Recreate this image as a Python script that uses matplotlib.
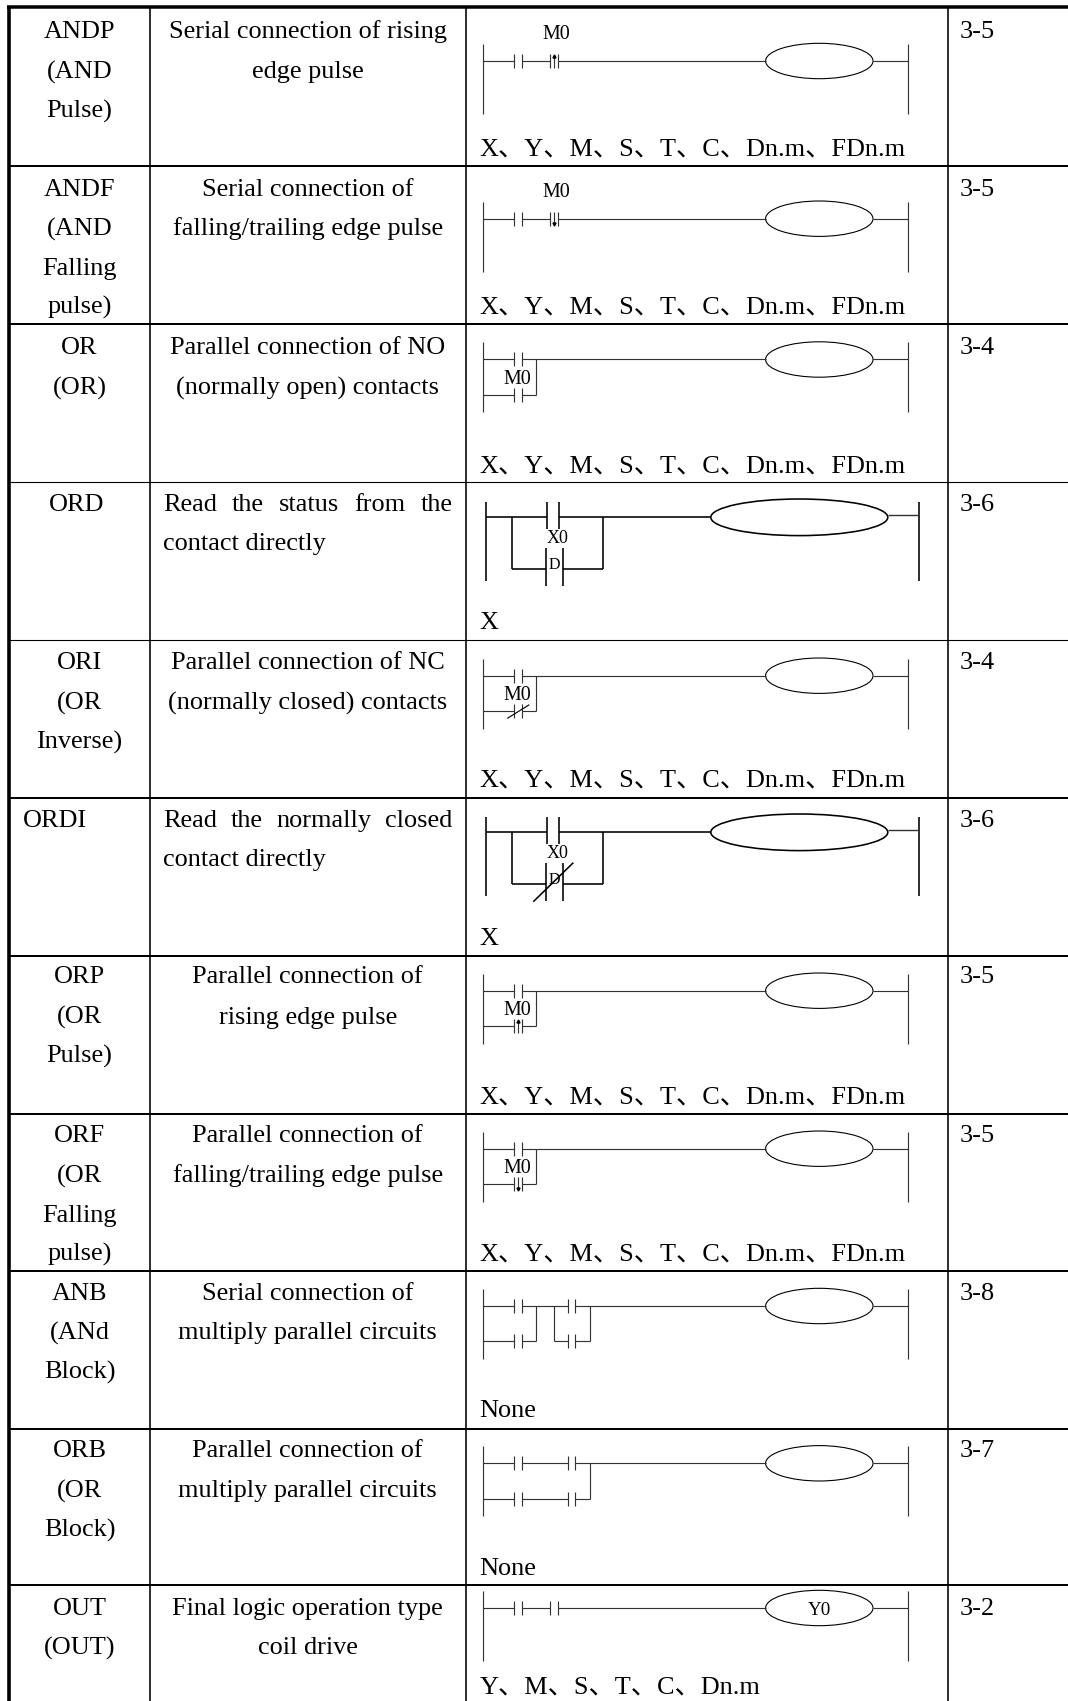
import matplotlib
matplotlib.use("Agg")
from matplotlib import pyplot as plt
from matplotlib.patches import Ellipse

# table content
names = [["ANDP", "(AND", "Pulse)"], ["ANDF", "(AND", "Falling", "pulse)"], ["OR", "(OR)"], ["ORD"],
         ["ORI", "(OR", "Inverse)"], ["ORDI"], ["ORP", "(OR", "Pulse)"], ["ORF", "(OR", "Falling", "pulse)"],
         ["ANB", "(ANd", "Block)"], ["ORB", "(OR", "Block)"], ["OUT", "(OUT)"]]
descs = [["Serial connection of rising", "edge pulse"],
         ["Serial connection of", "falling/trailing edge pulse"],
         ["Parallel connection of NO", "(normally open) contacts"],
         ["Read the status from the", "contact directly"],
         ["Parallel connection of NC", "(normally closed) contacts"],
         ["Read the normally closed", "contact directly"],
         ["Parallel connection of", "rising edge pulse"],
         ["Parallel connection of", "falling/trailing edge pulse"],
         ["Serial connection of", "multiply parallel circuits"],
         ["Parallel connection of", "multiply parallel circuits"],
         ["Final logic operation type", "coil drive"]]
ALL_OPS = "X、Y、M、S、T、C、Dn.m、FDn.m"
operands = [ALL_OPS, ALL_OPS, ALL_OPS, "X", ALL_OPS, "X", ALL_OPS, ALL_OPS, "None", "None", "Y、M、S、T、C、Dn.m"]
refs = ["3-5", "3-5", "3-4", "3-6", "3-4", "3-6", "3-5", "3-5", "3-8", "3-7", "3-2"]
kinds = ["and_up", "and_down", "or_no", "ord", "or_nc", "ordi", "or_up", "or_down", "anb", "orb", "out"]

# layout, pixels of the page
row_tops = [8, 166, 324, 482, 640, 797.7, 955.5, 1113.7, 1271, 1429, 1585]
row_lw = [2, 2, 2, 1.1, 1.1, 2, 2, 2, 2, 2, 2]
rungs = [61, 218.7, 359.5, 517.3, 675.7, 832.3, 990.7, 1148.7, 1306, 1463.3, 1608]
op_base = [156, 313.3, 472.2, 629.3, 787, 945, 1103.3, 1261, 1417.3, 1575, 1694]
text_base = [38, 196, 354, 511, 669, 826.7, 983.3, 1142, 1300, 1457, 1615]
wide_gap = [0, 2, 4, 6, 7, 9]  # rows whose second line sits 1 px lower
SERIF = ["Liberation Serif", "Noto Sans CJK SC"]
GRAY = "#333333"
DX = -0.7  # small diagrams sit a bit left of the measured pixel centres

fig = plt.figure(figsize=(10.68, 17.01), dpi=100)
ax = fig.add_axes([0, 0, 1, 1])
ax.set_xlim(0, 1068)
ax.set_ylim(1701, 0)
ax.axis("off")


def px(n):
    return n * 0.72


def seg(x0, y0, x1, y1, lw=1.15, color=GRAY):
    ax.plot([x0, x1], [y0, y1], color=color, lw=px(lw), solid_capstyle="butt")


def label(x, y, s, size=26.3, ha="center", va="baseline"):
    return ax.text(x, y, s, fontsize=px(size), family=SERIF, ha=ha, va=va, color="black")


def justified(x0, x1, y, s):
    # spread the words over the cell width
    words = s.split()
    rend = fig.canvas.get_renderer()
    items = [label(0, y, w, ha="left") for w in words]
    widths = [t.get_window_extent(rend).width for t in items]
    gap = (x1 - x0 - sum(widths)) / (len(words) - 1)
    x = x0
    for t, w in zip(items, widths):
        t.set_x(x)
        x += w + gap


def contact(x, y, mark=None, dx=7.7, h=7):
    x = x + DX
    seg(x, y - h, x, y + h)
    seg(x + dx, y - h, x + dx, y + h)
    xm = x + dx / 2
    if mark == "up":
        seg(xm, y - h + 1, xm, y + h)
        ax.plot([xm], [y - h + 2], marker="^", ms=2.2, color="black")
    if mark == "down":
        seg(xm, y - h, xm, y + h - 1)
        ax.plot([xm], [y + h - 2], marker="v", ms=2.2, color="black")
    if mark == "slash":
        seg(x - 7, y + 7, x + 15, y - 6.7, color="black")


def wire(y, x0, x1, contacts, dx=7.7):
    # horizontal line broken at every contact
    x = x0
    for c in contacts:
        seg(x + DX, y, c + DX, y)
        x = c + dx
    seg(x + DX, y, x1 + DX, y)


def small_frame(y, contacts):
    seg(483.7 + DX, y - 17, 483.7 + DX, y + 53)
    seg(908.7 + DX, y - 17, 908.7 + DX, y + 53)
    wire(y, 483.7, 766.3, contacts)
    seg(873.7 + DX, y, 908.7 + DX, y)
    ax.add_patch(Ellipse((820 + DX, y), 107.4, 35.4, fc="white", ec="black", lw=px(1.1)))


def big_frame(y, crossed):
    w = 1.6
    seg(486, y - 15, 486, y + 63.4, lw=w, color="black")
    seg(919, y - 15, 919, y + 63.4, lw=w, color="black")
    seg(486, y, 547.3, y, lw=w, color="black")
    seg(559.3, y, 711, y, lw=w, color="black")
    seg(887.7, y - 2.3, 919, y - 2.3, lw=1.4)
    ax.add_patch(Ellipse((799.3, y), 177, 36.6, fc="white", ec="black", lw=px(1.6)))
    seg(547.3, y - 15, 547.3, y + 11.6, lw=w, color="black")
    seg(559.3, y - 15, 559.3, y + 11.6, lw=w, color="black")
    yb = y + 51.7
    seg(512, y, 512, yb, lw=w, color="black")
    seg(512, yb, 545.7, yb, lw=w, color="black")
    seg(563.3, yb, 602.7, yb, lw=w, color="black")
    seg(602.7, y, 602.7, yb, lw=w, color="black")
    seg(545.7, yb - 20.7, 545.7, yb + 17, lw=w, color="black")
    seg(563.3, yb - 20.7, 563.3, yb + 17, lw=w, color="black")
    label(557.3, y + 26, "X0", size=18)
    label(554.7, yb - 4, "D", size=16, va="center")
    if crossed:
        seg(533.3, y + 69.4, 573.3, y + 30.4, lw=w, color="black")


def draw_diagram(kind, y):
    if kind in ("and_up", "and_down"):
        small_frame(y, [515, 550.7])
        contact(515, y)
        contact(550.7, y, "up" if kind == "and_up" else "down")
        label(556, y - 22, "M0", size=20)
    elif kind in ("or_no", "or_nc", "or_up", "or_down"):
        small_frame(y, [515])
        contact(515, y)
        yb = y + 35.7
        wire(yb, 483.7, 537, [515])
        seg(537 + DX, y, 537 + DX, yb)
        mark = {"or_no": None, "or_nc": "slash", "or_up": "up", "or_down": "down"}[kind]
        contact(515, yb, mark)
        label(517.5, y + 24, "M0", size=20)
    elif kind == "ord":
        big_frame(y, False)
    elif kind == "ordi":
        big_frame(y, True)
    elif kind == "anb":
        small_frame(y, [515, 568.3])
        yb = y + 35.3
        for x in (515, 568.3):
            contact(x, y)
            contact(x, yb)
        wire(yb, 483.7, 537, [515])
        seg(537 + DX, y, 537 + DX, yb)
        wire(yb, 554.3, 590.3, [568.3])
        seg(554.3 + DX, y, 554.3 + DX, yb)
        seg(590.3 + DX, y, 590.3 + DX, yb)
    elif kind == "orb":
        small_frame(y, [515, 568.3])
        yb = y + 36
        wire(yb, 483.7, 590.3, [515, 568.3])
        seg(590.3 + DX, y, 590.3 + DX, yb)
        for x in (515, 568.3):
            contact(x, y)
            contact(x, yb)
    elif kind == "out":
        small_frame(y, [515, 550.7])
        contact(515, y)
        contact(550.7, y)
        label(819, y + 6.5, "Y0", size=19)


# grid
for top, lw in zip(row_tops[1:], row_lw[1:]):
    seg(8, top, 1068, top, lw=lw, color="black")
seg(7.3, 7.5, 1068, 7.5, lw=3.5, color="black")
seg(9.2, 6, 9.2, 1701, lw=3.6, color="black")
for x in (150, 465.7, 947.5):
    seg(x, 8, x, 1701, lw=1.6, color="black")

fig.canvas.draw()
for i in range(len(names)):
    gap2 = 40.3 if i in wide_gap else 39.3

    def line_y(j):
        return text_base[i] if j == 0 else text_base[i] + gap2 + (j - 1) * 39.3

    for j, s in enumerate(names[i]):
        if s == "ORDI":
            label(23, line_y(j), s, ha="left")
        elif s == "ORD":
            label(77, line_y(j), s)
        else:
            label(79.5, line_y(j), s)
    for j, s in enumerate(descs[i]):
        if kinds[i] in ("ord", "ordi"):
            if j == 0:
                justified(163, 452.5, line_y(j), s)
            else:
                label(163, line_y(j), s, ha="left")
        else:
            label(307.7, line_y(j), s)
    label(479.5, op_base[i], operands[i], ha="left")
    label(960, text_base[i], refs[i], ha="left")
    draw_diagram(kinds[i], rungs[i])

fig.savefig("out.png", dpi=100)
